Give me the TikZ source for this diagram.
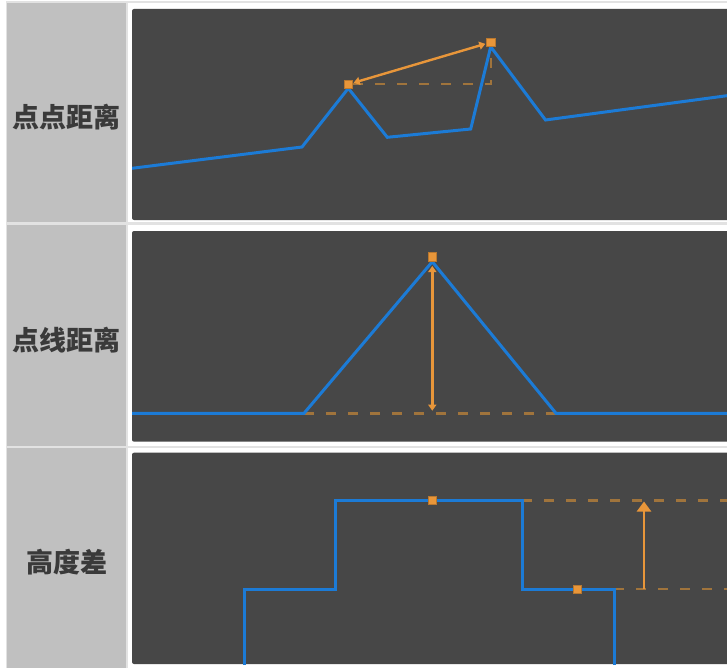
\documentclass[tikz,border=0pt]{standalone}
\usepackage{fontspec}
\newfontfamily\cjk{Noto Sans CJK SC}
\usetikzlibrary{arrows.meta}
\definecolor{panelbg}{HTML}{474747}
\definecolor{cellbg}{HTML}{C0C0C0}
\definecolor{rule}{HTML}{E2E2E2}
\definecolor{curve}{HTML}{1C7BD6}
\definecolor{meas}{HTML}{E8963A}
\definecolor{guide}{HTML}{A0743C}
\definecolor{labeltxt}{HTML}{3A3A3A}
\tikzset{
  panel/.style={fill=panelbg, rounded corners=2pt},
  cell/.style={fill=cellbg},
  profile/.style={draw=curve, line width=3pt, line join=miter},
  marker/.style={fill=meas, draw=meas!80!black, line width=0.4pt, minimum size=8.5pt, inner sep=0pt, rectangle},
  guideline/.style={draw=guide, line width=2.4pt, dash pattern=on 10pt off 12pt},
  measarrow/.style={draw=meas, line width=2.4pt},
  rowlabel/.style={font=\cjk\bfseries\fontsize{27}{30}\selectfont, text=labeltxt},
}
\begin{document}
\begin{tikzpicture}[x=1pt,y=-1pt]
\useasboundingbox (0,0) rectangle (727,668);
\fill[white] (0,0) rectangle (727,668);
% table rules
\fill[rule] (6,1) rectangle (727,668);
\fill[white] (128,2.7) rectangle (727,222.3);
\fill[white] (128,225) rectangle (727,445.5);
\fill[white] (128,447.5) rectangle (727,668);
% left cells
\fill[cell] (7.3,2.7) rectangle (126,222.3);
\fill[cell] (7.3,225) rectangle (126,445.5);
\fill[cell] (7.3,447.5) rectangle (126,668);
% panels
\fill[panel] (132,9) rectangle (740,220);
\fill[panel] (132,231) rectangle (740,441.7);
\fill[panel] (132,452.7) rectangle (740,664);
\fill[white] (727,0) rectangle (740,668);
% labels
\node[rowlabel] (l1) at (66.5,117) {点点距离};
\node[rowlabel] (l2) at (66.5,340) {点线距离};
\node[rowlabel] (l3) at (66.5,562) {高度差};
% ---------- row 1 ----------
\begin{scope}
\clip (132,9) rectangle (727,220);
\draw[profile] (132,168.3) -- (302,147) -- (348.3,88.3) -- (387.3,137.3) -- (470.7,129) -- (490.7,46.7) -- (545.5,120) -- (727,95.7);
\end{scope}
\coordinate (c1) at (490.7,84.3);
\node[marker] (p1) at (348.3,84.3) {};
\node[marker] (p2) at (490.7,42.3) {};
\draw[guideline] (p1.east) -- (c1) -- (p2.south);
\draw[measarrow, {Triangle[length=6pt,width=8pt]}-{Triangle[length=6pt,width=8pt]}, shorten <=1pt, shorten >=1pt] (p1) -- (p2);
% ---------- row 2 ----------
\coordinate (b1) at (304,413.3);
\coordinate (b2) at (556,413.3);
\coordinate (foot) at (432.3,413.3);
\draw[guideline] (b1) -- (b2);
\draw[profile] (132,413.3) -- (b1) -- (432.3,261.7) -- (b2) -- (727,413.3);
\node[marker] (p3) at (432.3,256.7) {};
\draw[measarrow, {Triangle[length=6pt,width=8pt]}-{Triangle[length=6pt,width=8pt]}] (432.3,266) -- (432.3,410.7);
% ---------- row 3 ----------
\coordinate (t1) at (522.3,500.3);
\coordinate (t2) at (727,500.3);
\coordinate (u1) at (614.3,589);
\coordinate (u2) at (727,589);
\draw[guideline] (t1) -- (t2);
\draw[guideline] (u1) -- (u2);
\begin{scope}
\clip (132,452.7) rectangle (727,664);
\draw[profile] (244,670) -- (244,589) -- (335.7,589) -- (335.7,500.3) -- (t1) -- (522.3,589) -- (u1) -- (614.3,670);
\end{scope}
\node[marker] (p4) at (432,500.3) {};
\node[marker] (p5) at (577,589) {};
\coordinate (a1) at (644,589);
\coordinate (a2) at (644,501.5);
\draw[measarrow, -{Triangle[length=10pt,width=14pt]}] (a1) -- (a2);
\end{tikzpicture}
\end{document}
